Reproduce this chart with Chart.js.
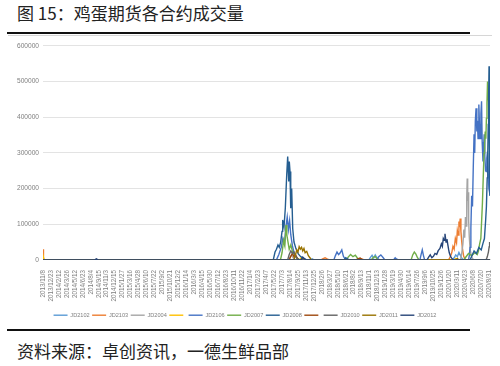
<!DOCTYPE html>
<html>
<head>
<meta charset="utf-8">
<script src="https://cdn.jsdelivr.net/npm/chart.js@4"></script>
<style>
  html, body { margin: 0; padding: 0; background: #fff; }
  body { width: 500px; height: 366px; position: relative; overflow: hidden; font-family: "Noto Sans CJK SC", "Noto Sans", sans-serif; }
  .title { position: absolute; left: 17px; top: 4px; font-size: 17px; line-height: 17px; color: #222; white-space: nowrap; }
  .rule { position: absolute; left: 7px; width: 463px; height: 2px; background: #111; }
  .thin { position: absolute; left: 8px; width: 484px; top: 35px; height: 1px; background: #d6d6d6; }
  .source { position: absolute; left: 17px; top: 342px; font-size: 17px; line-height: 17px; color: #222; white-space: nowrap; }
  #wrap { position: absolute; left: 0; top: 38px; width: 500px; height: 292px; }
</style>
</head>
<body>
<div class="title">图 15：鸡蛋期货各合约成交量</div>
<div class="rule" style="top:32px"></div>
<div class="thin"></div>
<div id="wrap"><canvas id="c" width="500" height="290"></canvas></div>
<div class="rule" style="top:329px"></div>
<div class="source">资料来源：卓创资讯，一德生鲜品部</div>
<script>
// Tick labels (category positions 0..56)
const xLabels = [
  "2013/11/8","2013/12/23","2014/2/12","2014/3/26","2014/5/12","2014/6/23","2014/8/4","2014/9/15",
  "2014/11/3","2014/12/15","2015/1/27","2015/3/16","2015/4/28","2015/6/10","2015/7/22","2015/9/2",
  "2015/10/21","2015/12/2","2016/1/14","2016/3/3","2016/4/15","2016/5/30","2016/7/12","2016/8/23",
  "2016/10/11","2016/11/22","2017/1/4","2017/2/23","2017/4/7","2017/5/22","2017/7/3","2017/8/14",
  "2017/9/25","2017/11/13","2017/12/25","2018/2/6","2018/3/27","2018/5/10","2018/6/21","2018/8/2",
  "2018/9/13","2018/11/1","2018/12/13","2019/1/28","2019/3/19","2019/4/30","2019/6/14","2019/7/26",
  "2019/9/6","2019/10/25","2019/12/6","2020/1/20","2020/3/11","2020/4/23","2020/6/8","2020/7/20","2020/8/31"
];
const yTicks = [0, 100000, 200000, 300000, 400000, 500000, 600000];

const seriesNames = ["JD2102","JD2103","JD2004","","JD2106","JD2007","JD2008","","JD2010","JD2011","JD2012"];
const seriesColors = ["#5B9BD5","#ED7D31","#A5A5A5","#FFC000","#4472C4","#70AD47","#255E91","#9E480E","#636363","#997300","#264478"];

// Each series: [position on the date axis, volume]
const jd2102 = [[0,0],[33.6,0],[33.8,3000],[34.0,0],[40.9,0],[41.1,7000],[41.3,13000],[41.5,5000],[41.7,14000],[41.9,6000],[42.1,2000],[42.3,0],
  [51.4,0],[51.6,6000],[51.8,14000],[52.0,9000],[52.2,21000],[52.4,12000],[52.6,4000],[52.8,0],[56.1,0]];
const jd2103 = [[0,30000],[0.06,3000],[0.2,0],[34.9,0],[35.1,3000],[35.4,6000],[35.7,2000],[36.0,0],[39.6,0],[39.8,4000],[40.1,2000],[40.3,0],
  [50.9,0],[51.1,8000],[51.3,20000],[51.45,38000],[51.6,30000],[51.75,60000],[51.9,48000],[52.0,82000],[52.1,70000],[52.2,108000],[52.28,92000],
  [52.36,116000],[52.45,80000],[52.55,52000],[52.65,30000],[52.8,10000],[52.95,3000],[53.1,0],[56.1,0]];
const jd2004 = [[0,0],[30.8,0],[31.0,8000],[31.2,14000],[31.4,6000],[31.6,0],[52.4,0],[52.55,18000],[52.7,45000],[52.82,85000],[52.92,62000],
  [53.02,120000],[53.1,95000],[53.18,175000],[53.24,228000],[53.3,165000],[53.36,190000],[53.42,110000],[53.5,65000],[53.6,30000],[53.75,12000],
  [53.9,4000],[54.1,0],[56.1,0]];
const jdYellow = [[0,0],[0.05,8000],[0.15,0],[32.2,0],[32.4,6000],[32.6,3000],[32.8,0],[51.6,0],[51.8,4000],[52.0,0],[56.1,0]];
const jd2106 = [[0,0],[29.3,0],[29.6,15000],[29.9,35000],[30.1,60000],[30.3,45000],[30.5,95000],[30.65,120000],[30.8,85000],[30.95,110000],
  [31.1,70000],[31.3,40000],[31.5,20000],[31.8,8000],[32.1,0],
  [36.5,0],[36.7,12000],[36.9,22000],[37.1,15000],[37.3,20000],[37.5,28000],[37.7,10000],[37.9,3000],[38.1,0],
  [41.9,0],[42.1,8000],[42.4,14000],[42.7,6000],[42.9,0],[44.0,0],[44.2,6000],[44.4,2000],[44.6,0],
  [47.3,0],[47.45,15000],[47.6,28000],[47.75,12000],[47.9,0],
  [53.4,0],[53.5,12000],[53.6,35000],[53.7,90000],[53.8,180000],[53.9,150000],[54.0,260000],[54.1,352000],[54.18,300000],[54.26,390000],
  [54.35,425000],[54.45,360000],[54.52,390000],[54.6,340000],[54.7,436000],[54.78,380000],[54.88,340000],[54.96,410000],[55.04,445000],
  [55.12,330000],[55.22,276000],[55.3,320000],[55.37,352000],[55.45,290000],[55.55,250000],[55.62,248000],[55.7,285000],[55.79,304000],
  [55.88,240000],[55.96,200000],[56.04,191000],[56.1,180000]];
const jd2007 = [[0,0],[29.8,0],[30.0,20000],[30.2,55000],[30.35,40000],[30.5,98000],[30.6,70000],[30.75,50000],[30.9,30000],[31.1,42000],
  [31.3,25000],[31.6,12000],[31.9,5000],[32.2,0],
  [38.1,0],[38.3,8000],[38.6,15000],[38.9,9000],[39.2,13000],[39.5,4000],[39.7,0],[41.2,0],[41.4,6000],[41.7,10000],[41.9,3000],[42.1,0],
  [46.2,0],[46.4,14000],[46.6,22000],[46.8,16000],[47.0,6000],[47.2,0],
  [52.8,0],[53.0,6000],[53.4,18000],[53.8,12000],[54.2,20000],[54.5,15000],[54.65,25000],[54.8,45000],[54.95,60000],[55.05,110000],
  [55.15,160000],[55.25,230000],[55.35,300000],[55.42,324000],[55.5,360000],[55.58,340000],[55.65,397000],[55.72,440000],[55.79,500000],
  [55.86,470000],[55.92,445000],[56.0,330000],[56.05,300000],[56.1,250000]];
const jd2008 = [[0,0],[28.9,0],[29.12,22000],[29.3,30000],[29.49,42000],[29.65,35000],[29.83,50000],[30.0,80000],[30.08,112000],[30.25,93000],
  [30.41,145000],[30.59,240000],[30.71,290000],[30.84,220000],[30.91,276000],[31.0,248000],[31.09,145000],[31.21,200000],[31.34,88000],
  [31.5,50000],[31.75,31000],[32.04,17000],[32.3,10000],[32.63,5000],[33.1,0],
  [37.8,0],[38.0,6000],[38.2,3000],[38.4,0],
  [53.6,0],[53.8,10000],[54.1,25000],[54.4,18000],[54.7,35000],[55.0,28000],[55.2,45000],[55.4,60000],[55.55,110000],[55.65,150000],
  [55.75,230000],[55.82,300000],[55.88,380000],[55.93,460000],[55.98,543000],[56.03,420000],[56.07,250000],[56.1,180000]];
const jdBrown = [[0,0],[30.9,0],[31.1,10000],[31.3,18000],[31.5,9000],[31.7,14000],[31.9,5000],[32.1,0],[39.3,0],[39.5,3000],[39.8,5000],[40.1,0],[56.1,0]];
const jd2010 = [[0,0],[30.7,0],[30.9,15000],[31.1,25000],[31.3,18000],[31.5,22000],[31.7,10000],[31.9,4000],[32.1,0],
  [55.6,0],[55.75,8000],[55.9,22000],[56.0,37000],[56.05,50000],[56.1,40000]];
const jd2011 = [[0,0],[31.5,0],[31.7,15000],[31.85,28000],[32.0,22000],[32.15,37000],[32.3,30000],[32.45,35000],[32.6,25000],[32.75,32000],
  [32.9,20000],[33.1,24000],[33.3,12000],[33.5,6000],[33.7,0],[51.8,0],[52.0,4000],[52.2,0],[56.1,0]];
const jd2012 = [[0,0],[6.5,0],[6.7,3000],[6.9,0],[32.4,0],[32.6,8000],[32.8,4000],[33.0,0],
  [48.2,0],[48.4,8000],[48.6,14000],[48.8,6000],[49.0,10000],[49.2,18000],[49.41,15000],[49.6,26000],[49.82,32000],[50.0,45000],
  [50.12,38000],[50.24,60000],[50.35,55000],[50.45,73000],[50.58,50000],[50.7,58000],[50.79,45000],[50.9,30000],[50.99,20000],
  [51.15,10000],[51.29,5000],[51.5,0],[56.1,0]];

const seriesData = [jd2102, jd2103, jd2004, jdYellow, jd2106, jd2007, jd2008, jdBrown, jd2010, jd2011, jd2012];

const datasets = seriesData.map((d, i) => ({
  label: seriesNames[i],
  data: d.map(p => ({ x: p[0], y: p[1] })),
  borderColor: seriesColors[i],
  backgroundColor: seriesColors[i],
  borderWidth: 1.4,
  pointRadius: 0,
  tension: 0,
  order: seriesData.length - i
}));

const tickFont = { family: "'Liberation Sans', Arial, sans-serif", size: 6.3 };

new Chart(document.getElementById('c'), {
  type: 'line',
  data: { datasets },
  options: {
    responsive: false,
    animation: false,
    devicePixelRatio: 1,
    layout: { padding: { top: 7, left: 0, right: 10, bottom: 0 } },
    plugins: {
      tooltip: { enabled: false },
      legend: {
        position: 'bottom',
        labels: {
          usePointStyle: true,
          pointStyle: 'line',
          pointStyleWidth: 14,
          padding: 2.5,
          color: '#7f7f7f',
          font: { family: "'Liberation Sans', Arial, sans-serif", size: 5.6 },
          sort: (a, b) => a.datasetIndex - b.datasetIndex
        }
      }
    },
    scales: {
      x: {
        type: 'linear',
        min: 0,
        max: 56.1,
        grid: { display: false },
        border: { display: true, color: '#d9d9d9' },
        afterBuildTicks: (scale) => { scale.ticks = xLabels.map((_, i) => ({ value: i })); },
        afterFit: (scale) => { scale.height = 50; },
        ticks: {
          autoSkip: false,
          minRotation: 90,
          maxRotation: 90,
          padding: 2,
          color: '#7f7f7f',
          font: tickFont,
          callback: (v) => xLabels[v] ?? ''
        }
      },
      y: {
        min: 0,
        max: 600000,
        afterBuildTicks: (scale) => { scale.ticks = yTicks.map(v => ({ value: v })); },
        afterFit: (scale) => { scale.width = 43; },
        grid: { color: '#e3e3e3', lineWidth: 1, drawTicks: false },
        border: { display: false },
        ticks: {
          padding: 4,
          color: '#7f7f7f',
          font: { family: "'Liberation Sans', Arial, sans-serif", size: 6.6 },
          callback: (v) => String(v)
        }
      }
    }
  }
});
</script>
</body>
</html>
